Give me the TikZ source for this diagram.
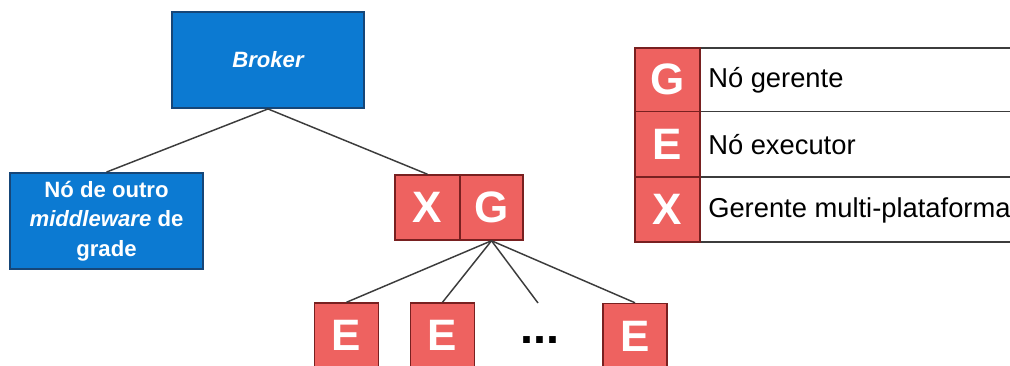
\documentclass[tikz,border=0pt]{standalone}
\usepackage{fontspec}
\setmainfont{Liberation Sans}
\begin{document}
\definecolor{boxblue}{RGB}{12,122,210}
\definecolor{blueedge}{RGB}{22,70,120}
\definecolor{boxred}{RGB}{238,98,96}
\definecolor{rededge}{RGB}{120,32,32}
\definecolor{linegray}{RGB}{60,60,60}
\begin{tikzpicture}[x=0.75pt,y=-0.75pt,
  bluebox/.style={draw=blueedge,line width=1.4pt,fill=boxblue,text=white,
    inner sep=0pt,font=\fontsize{16.6}{22}\selectfont\bfseries,align=center},
  letterbox/.style={draw=rededge,line width=1.1pt,fill=boxred,text=white,
    inner sep=0pt,minimum width=48pt,minimum height=48.75pt,
    font=\fontsize{33}{33}\selectfont\bfseries},
  legcell/.style={draw=rededge,line width=1.1pt,fill=boxred,text=white,
    inner sep=0pt,minimum width=48.75pt,minimum height=48.5pt,
    font=\fontsize{33}{33}\selectfont\bfseries},
  legtext/.style={anchor=west,inner sep=0pt,text=black,
    font=\fontsize{20.5}{24}\selectfont},
  link/.style={draw=linegray,line width=1.1pt}]
\useasboundingbox (0,0) rectangle (1010,365);
\clip (0,0) rectangle (1010,365);
\fill[white] (0,0) rectangle (1010,365);

% broker and the other middleware's node
\node[bluebox,minimum width=144pt,minimum height=72pt] (broker) at (268,60)
  {\itshape Broker};
\node[bluebox,minimum width=144.75pt,minimum height=72pt] (other) at (106.5,221)
  {Nó de outro\\ \itshape middleware\upshape{} de\\ grade};

% multi-platform manager beside the manager node
\node[letterbox,minimum width=48.75pt] (x) at (427.5,207.5) {X};
\node[letterbox,minimum width=47.25pt] (g) at (491.5,207.5) {G};

% executor nodes
\node[letterbox] (e1) at (346.5,335.5) {E};
\node[letterbox] (e2) at (442.5,335.5) {E};
\node[letterbox] (e3) at (635,336) {E};
\node[inner sep=0pt,anchor=base,font=\fontsize{35}{35}\selectfont\bfseries] (dots) at (539.5,343) {...};
\coordinate (more) at (538,303);

% connectors
\draw[link] (broker.south) -- (other.north);
\draw[link] (broker.south) -- (x.north);
\draw[link] (g.south) -- (e1.north);
\draw[link] (g.south) -- (e2.north);
\draw[link] (g.south) -- (more);
\draw[link] (g.south) -- (e3.north);

% legend
\draw[draw=linegray,line width=1.2pt] (635,48) rectangle (1020,242);
\draw[draw=linegray,line width=1.2pt] (635,111.5) -- (1020,111.5);
\draw[draw=linegray,line width=1.2pt] (635,177) -- (1020,177);
\node[legcell,minimum height=47.6pt] (lg) at (667.5,79.75) {G};
\node[legcell,minimum height=49.1pt] (le) at (667.5,144.25) {E};
\node[legcell,minimum height=48.75pt] (lx) at (667.5,209.5) {X};
\node[legtext] (tg) at (708,80) {Nó gerente};
\node[legtext] (te) at (708,145) {Nó executor};
\node[legtext] (tx) at (708,210) {Gerente multi-plataforma};
\end{tikzpicture}
\end{document}
